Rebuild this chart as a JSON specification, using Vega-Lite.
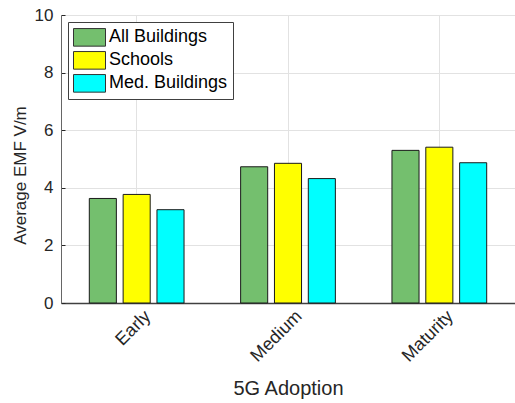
{
  "$schema": "https://vega.github.io/schema/vega-lite/v6.json",
  "autosize": "none",
  "padding": {"left": 61, "top": 15, "right": 0, "bottom": 100},
  "width": 454,
  "height": 288,
  "background": "white",
  "config": {
    "font": "Liberation Sans",
    "view": {"stroke": null},
    "axis": {"labelColor": "#262626", "titleColor": "#262626", "domainColor": "#262626", "tickColor": "#262626", "gridColor": "#e2e2e2", "gridWidth": 1, "titleFontWeight": "normal"}
  },
  "data": {
    "values": [
      {"stage": "Early", "type": "All Buildings", "value": 3.63},
      {"stage": "Early", "type": "Schools", "value": 3.77},
      {"stage": "Early", "type": "Med. Buildings", "value": 3.24},
      {"stage": "Medium", "type": "All Buildings", "value": 4.73},
      {"stage": "Medium", "type": "Schools", "value": 4.85},
      {"stage": "Medium", "type": "Med. Buildings", "value": 4.32},
      {"stage": "Maturity", "type": "All Buildings", "value": 5.30},
      {"stage": "Maturity", "type": "Schools", "value": 5.41},
      {"stage": "Maturity", "type": "Med. Buildings", "value": 4.87}
    ]
  },
  "mark": {"type": "bar", "stroke": "#1a1a1a", "strokeWidth": 1, "opacity": 1},
  "encoding": {
    "x": {
      "field": "stage", "type": "nominal", "sort": ["Early", "Medium", "Maturity"],
      "scale": {"paddingInner": 0.374, "paddingOuter": 0.187},
      "axis": {"title": "5G Adoption", "titleFontSize": 20, "titleX": 227, "titleY": 91, "titleBaseline": "alphabetic", "labelAngle": -45, "labelAlign": "right", "labelBaseline": "top", "labelFontSize": 18, "labelPadding": 4, "labelOffset": 5, "ticks": false, "grid": true, "domainWidth": 1.5, "domainColor": "#404040"}
    },
    "xOffset": {
      "field": "type", "type": "nominal", "sort": ["All Buildings", "Schools", "Med. Buildings"],
      "scale": {"paddingInner": 0.2, "paddingOuter": 0}
    },
    "y": {
      "field": "value", "type": "quantitative",
      "scale": {"domain": [0, 10], "nice": false},
      "axis": {"title": "Average EMF V/m", "titleFontSize": 17, "titleX": -36, "titleY": 160, "titleAngle": -90, "titleAlign": "center", "titleBaseline": "alphabetic", "values": [0, 2, 4, 6, 8, 10], "labelFontSize": 17, "tickSize": -4, "labelPadding": 12, "grid": true, "domainWidth": 1, "domainColor": "#666666"}
    },
    "color": {
      "field": "type", "type": "nominal", "sort": ["All Buildings", "Schools", "Med. Buildings"],
      "scale": {"domain": ["All Buildings", "Schools", "Med. Buildings"], "range": ["#74bf6e", "#ffff00", "#00ffff"]},
      "legend": {
        "title": null, "orient": "none", "legendX": 7, "legendY": 7,
        "symbolType": "M-1,-0.55H1V0.55H-1Z", "symbolSize": 1024, "symbolStrokeColor": "#333333", "symbolStrokeWidth": 1, "symbolOpacity": 1,
        "labelFontSize": 18, "labelColor": "#000000", "labelOffset": 3, "clipHeight": 20.7, "rowPadding": 2,
        "padding": 5, "strokeColor": "#404040", "fillColor": "white", "cornerRadius": 0
      }
    }
  }
}
